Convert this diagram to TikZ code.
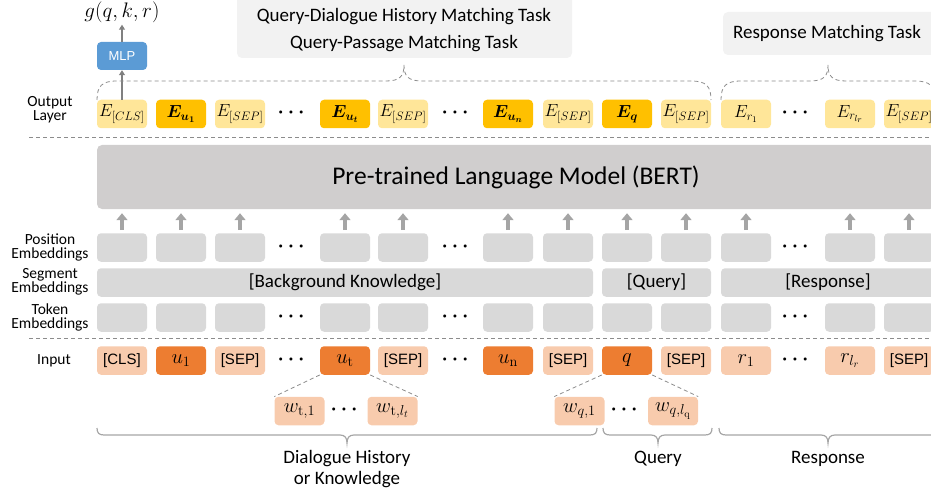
\RequirePackage{fix-cm}
\documentclass[tikz,border=0pt]{standalone}
\usepackage{amsmath,bm}
\usepackage[no-math]{fontspec}
\setmainfont{Carlito}
\newfontfamily\arialf{Liberation Sans}
\usetikzlibrary{arrows.meta}
\definecolor{ylt}{HTML}{FFE699}
\definecolor{ydk}{HTML}{FFC000}
\definecolor{olt}{HTML}{F8CBAD}
\definecolor{odk}{HTML}{ED7D31}
\definecolor{gbox}{HTML}{D9D9D9}
\definecolor{bertc}{HTML}{D0CECE}
\definecolor{taskc}{HTML}{F2F2F2}
\definecolor{mlpc}{HTML}{5B9BD5}
\definecolor{arrg}{HTML}{A5A5A5}
\definecolor{dashg}{HTML}{8C8C8C}
\definecolor{brg}{HTML}{A6A6A6}
\begin{document}
\begin{tikzpicture}[x=1pt,y=-1pt,
  cell/.style={rounded corners=4pt, minimum width=50pt, minimum height=28.5pt, inner sep=0pt, text=black},
  ylight/.style={cell, fill=ylt, font=\fontsize{17.5}{17.5}\selectfont},
  ydark/.style={cell, fill=ydk, font=\fontsize{17.5}{17.5}\selectfont},
  olight/.style={cell, fill=olt, font=\fontsize{20.5}{20.5}\selectfont},
  odark/.style={cell, fill=odk, font=\fontsize{20.5}{20.5}\selectfont},
  graybox/.style={cell, fill=gbox},
  segbox/.style={rounded corners=4pt, fill=gbox, minimum height=28.5pt, inner sep=0pt, font=\fontsize{19}{19}\selectfont},
  dotsn/.style={inner sep=0pt, font=\fontsize{20}{20}\selectfont},
  sidelab/.style={align=center, inner sep=0pt, font=\fontsize{15.5}{14}\selectfont},
  uparrow/.style={draw=arrg, line width=4pt, -{Triangle[width=11pt,length=7pt]}},
  thinarrow/.style={draw=gray, line width=1.1pt, -{Triangle[width=6pt,length=5pt]}},
  dline/.style={draw=dashg, line width=0.8pt, dash pattern=on 4pt off 3pt},
  brace/.style={draw=brg, line width=1.2pt},
  tasktext/.style={align=center, inner sep=0pt, font=\fontsize{19}{27}\selectfont},
  botlab/.style={align=center, inner sep=0pt, font=\fontsize{19}{21}\selectfont}
]
\useasboundingbox (0,0) rectangle (931,497);
\clip (0,0) rectangle (931,497);

% task boxes
\fill[taskc, rounded corners=5pt] (237,-5) rectangle (572,58);
\node[tasktext] (task1) at (404,30.5) {Query-Dialogue History Matching Task\\Query-Passage Matching Task};
\fill[taskc, rounded corners=5pt] (723,12) rectangle (945,55);
\node[tasktext] (task2) at (827,33.5) {Response Matching Task};

% BERT
\node[rounded corners=5pt, fill=bertc, minimum width=838pt, minimum height=64pt, inner sep=0pt,
  font=\fontsize{25.5}{25.5}\selectfont] (bert) at (516,177) {Pre-trained Language Model (BERT)};

% side labels
\node[sidelab] (lout) at (50,110) {Output\\Layer};
\node[sidelab] (lpos) at (50,247) {Position\\Embeddings};
\node[sidelab] (lseg) at (50,282) {Segment\\Embeddings};
\node[sidelab] (ltok) at (50,317) {Token\\Embeddings};
\node[sidelab] (linp) at (54,361) {Input};

% horizontal dashed separators
\draw[dline] (29,137) -- (935,137);
\draw[dline] (29,338) -- (935,338);

% output row
\foreach \cx/\st/\tx [count=\k] in {
  122/ylight/{$E_{[CLS]}$},
  181/ydark/{$\boldsymbol{E_{u_1}}$},
  240/ylight/{$E_{[SEP]}$},
  345/ydark/{$\boldsymbol{E_{u_t}}$},
  403/ylight/{$E_{[SEP]}$},
  508/ydark/{$\boldsymbol{E_{u_n}}$},
  568/ylight/{$E_{[SEP]}$},
  627/ydark/{$\boldsymbol{E_{q}}$},
  686/ylight/{$E_{[SEP]}$},
  746/ylight/{$E_{r_1}$},
  850/ylight/{$E_{r_{l_r}}$},
  909/ylight/{$E_{[SEP]}$}} {
  \node[\st] (o\k) at (\cx,114) {\tx};
}

% position & token rows, arrows
\foreach \cx [count=\k] in {122,181,240,345,403,508,568,627,686,746,850,909} {
  \node[graybox] (p\k) at (\cx,247.5) {};
  \node[graybox] (t\k) at (\cx,317.5) {};
  \draw[uparrow, shorten <=3pt, shorten >=4pt] (p\k.north) -- (p\k.north |- bert.south);
}

% segment row
\node[segbox, minimum width=496pt] (sbk) at (345,282.5) {[Background Knowledge]};
\node[segbox, minimum width=109pt] (sq) at (656.5,282.5) {[Query]};
\node[segbox, minimum width=214pt] (sr) at (828,282.5) {[Response]};

% input row
\foreach \cx/\st/\tx [count=\k] in {
  122/olight/{\arialf\fontsize{15}{15}\selectfont [CLS]},
  181/odark/{$u_1$},
  240/olight/{\arialf\fontsize{15}{15}\selectfont [SEP]},
  345/odark/{$u_{\mathrm{t}}$},
  403/olight/{\arialf\fontsize{15}{15}\selectfont [SEP]},
  508/odark/{$u_{\mathrm{n}}$},
  568/olight/{\arialf\fontsize{15}{15}\selectfont [SEP]},
  627/odark/{$q$},
  686/olight/{\arialf\fontsize{15}{15}\selectfont [SEP]},
  746/olight/{$r_1$},
  850/olight/{$r_{l_r}$},
  909/olight/{\arialf\fontsize{15}{15}\selectfont [SEP]}} {
  \node[\st] (i\k) at (\cx,360.5) {\tx};
}

% dots
\foreach \dx [count=\k] in {293,457,797} {
  \node[dotsn] (od\k) at (\dx,113) {$\boldsymbol{\cdots}$};
  \node[dotsn] (pd\k) at (\dx,246.5) {$\boldsymbol{\cdots}$};
  \node[dotsn] (td\k) at (\dx,316.5) {$\boldsymbol{\cdots}$};
  \node[dotsn] (id\k) at (\dx,359.5) {$\boldsymbol{\cdots}$};
}

% word-level row
\node[olight] (wt1) at (299.5,411) {$w_{\mathrm{t},1}$};
\node[olight] (wtl) at (392.5,411) {$w_{\mathrm{t},l_t}$};
\node[dotsn] (wtd) at (346,410) {$\boldsymbol{\cdots}$};
\node[olight] (wq1) at (579.5,411) {$w_{q,1}$};
\node[olight] (wql) at (673,411) {$w_{q,l_{\mathrm{q}}}$};
\node[dotsn] (wqd) at (626,410) {$\boldsymbol{\cdots}$};
\draw[dline] (i4.south west) -- (wt1.north west);
\draw[dline] (i4.south east) -- (wtl.north east);
\draw[dline] (i8.south west) -- (wq1.north west);
\draw[dline] (i8.south east) -- (wql.north east);

% MLP and output
\node[rounded corners=4pt, fill=mlpc, minimum width=50pt, minimum height=28pt, inner sep=0pt,
  text=white, font=\arialf\fontsize{13}{13}\selectfont] (mlp) at (122,56) {MLP};
\node[inner sep=0pt, font=\fontsize{21}{21}\selectfont] (gout) at (122,12) {$g(q,k,r)$};
\draw[thinarrow] (o1.north) -- (mlp.south);
\draw[thinarrow, shorten >=2pt] (mlp.north) -- (gout.south);

% top dashed braces
\draw[dline] (97,100) .. controls (97,86) and (102,81) .. (117,81) -- (386,81)
  .. controls (400,81) and (404,76) .. (404,65) .. controls (404,76) and (408,81) .. (422,81)
  -- (691,81) .. controls (706,81) and (711,86) .. (711,100);
\draw[dline] (721,100) .. controls (721,86) and (726,81) .. (741,81) -- (810,81)
  .. controls (824,81) and (828,76) .. (828,65) .. controls (828,76) and (832,81) .. (846,81)
  -- (915,81) .. controls (930,81) and (935,86) .. (935,100);

% bottom braces
\draw[brace] (97,428) .. controls (97,433) and (99,435) .. (104,435) -- (340,435)
  .. controls (345,435) and (347,438) .. (347,443) .. controls (347,438) and (349,435) .. (354,435)
  -- (590,435) .. controls (595,435) and (597,433) .. (597,428);
\draw[brace] (603,428) .. controls (603,433) and (605,435) .. (610,435) -- (651,435)
  .. controls (656,435) and (658,438) .. (658,443) .. controls (658,438) and (660,435) .. (665,435)
  -- (705,435) .. controls (710,435) and (712,433) .. (712,428);
\draw[brace] (719,428) .. controls (719,433) and (721,435) .. (726,435) -- (821,435)
  .. controls (826,435) and (828,438) .. (828,443) .. controls (828,438) and (830,435) .. (835,435)
  -- (930,435) .. controls (935,435) and (937,433) .. (937,428);

\node[botlab] (bl1) at (347,469.5) {Dialogue History\\or Knowledge};
\node[botlab] (bl2) at (658,459) {Query};
\node[botlab] (bl3) at (828,459) {Response};
\end{tikzpicture}
\end{document}
